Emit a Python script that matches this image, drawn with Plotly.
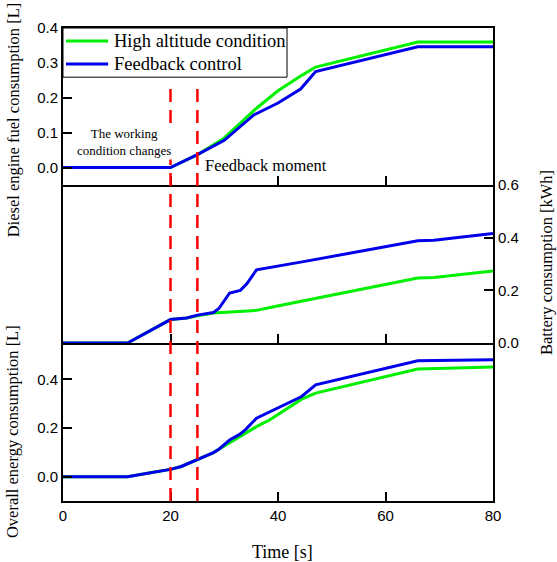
import plotly.graph_objects as go

# diesel engine fuel consumption [L]
t_fuel_alt = [0, 20, 25, 30, 36, 40, 44.5, 47, 66, 80]
fuel_alt = [0, 0, 0.037, 0.085, 0.17, 0.22, 0.265, 0.288, 0.36, 0.36]
t_fuel_fb = [0, 20, 25, 30, 35.5, 40, 44.2, 47, 66, 80]
fuel_fb = [0, 0, 0.037, 0.078, 0.151, 0.185, 0.225, 0.275, 0.346, 0.346]

# battery consumption [kWh]
t_bat_alt = [0, 12, 20, 23, 25, 28, 36, 38.5, 66, 69, 80]
bat_alt = [0, 0, 0.089, 0.095, 0.103, 0.114, 0.124, 0.135, 0.247, 0.249, 0.274]
t_bat_fb = [0, 12, 20, 23, 25, 28, 29, 31, 33, 34.2, 36, 38, 45, 66, 69, 80]
bat_fb = [0, 0, 0.089, 0.095, 0.106, 0.116, 0.131, 0.19, 0.2, 0.225, 0.278, 0.285, 0.31, 0.388, 0.39, 0.416]

# overall energy consumption [L]
t_all_alt = [0, 12, 16, 20, 22, 25, 28, 29, 31, 36, 38.5, 44.4, 47, 66, 80]
all_alt = [0, 0, 0.015, 0.03, 0.042, 0.072, 0.099, 0.113, 0.14, 0.206, 0.234, 0.319, 0.344, 0.443, 0.451]
t_all_fb = [0, 12, 16, 20, 22, 25, 28, 29, 31, 33, 34, 36, 38.5, 44.4, 47, 66, 80]
all_fb = [0, 0, 0.015, 0.03, 0.042, 0.072, 0.099, 0.113, 0.151, 0.176, 0.195, 0.241, 0.268, 0.33, 0.378, 0.477, 0.481]

event_times = [20, 25]
series_names = ['High altitude condition', 'Feedback control']
GREEN = 'rgb(0,240,0)'
BLUE = 'rgb(0,0,235)'
SERIF = 'Liberation Serif, Times New Roman, serif'
SANS = 'Liberation Sans, Arial, sans-serif'

fig = go.Figure()

panels = [
    ('x3', 'y3', t_fuel_alt, fuel_alt, t_fuel_fb, fuel_fb),
    ('x2', 'y2', t_bat_alt, bat_alt, t_bat_fb, bat_fb),
    ('x', 'y', t_all_alt, all_alt, t_all_fb, all_fb),
]
for xa, ya, tg, g, tb, b in panels:
    fig.add_trace(go.Scatter(x=tg, y=g, mode='lines', name=series_names[0],
                             line=dict(color=GREEN, width=3), xaxis=xa, yaxis=ya))
    fig.add_trace(go.Scatter(x=tb, y=b, mode='lines', name=series_names[1],
                             line=dict(color=BLUE, width=3), xaxis=xa, yaxis=ya))

for t in event_times:
    fig.add_shape(type='line', xref='x', yref='paper', x0=t, x1=t, y0=0, y1=0.884,
                  line=dict(color='red', width=2.5, dash='13px,8px'), layer='above')

# hand-made legend box (more compact than plotly's own)
fig.add_shape(type='rect', xref='paper', yref='paper', x0=0, x1=0.521, y0=0.896, y1=1,
              line=dict(color='black', width=1), fillcolor='white', layer='above')
for name, col, ly in zip(series_names, [GREEN, BLUE], [0.9725, 0.924]):
    fig.add_shape(type='line', xref='paper', yref='paper', x0=0.007, x1=0.105, y0=ly, y1=ly,
                  line=dict(color=col, width=3), layer='above')
    fig.add_annotation(text=name, xref='paper', yref='paper', x=0.114, y=ly,
                       xanchor='left', yanchor='middle', showarrow=False,
                       font=dict(family=SERIF, size=18.5, color='black'))

ax_common = dict(showline=True, linecolor='black', linewidth=2, mirror=True,
                 ticks='inside', ticklen=9, tickwidth=2, tickcolor='black',
                 showgrid=False, zeroline=False, automargin=False)
tickfont = dict(family=SANS, size=15, color='black')

fig.update_layout(
    width=557, height=562,
    margin=dict(l=63, r=64, t=28, b=61, autoexpand=False),
    plot_bgcolor='white', paper_bgcolor='white',
    xaxis=dict(ax_common, range=[0, 80], dtick=20, anchor='y', tickfont=tickfont, mirror=False),
    xaxis2=dict(ax_common, range=[0, 80], dtick=20, anchor='y2', showticklabels=False,
                matches='x', mirror=False),
    xaxis3=dict(ax_common, range=[0, 80], dtick=20, anchor='y3', showticklabels=False, matches='x'),
    yaxis=dict(ax_common, domain=[0, 0.334], range=[-0.1, 0.55], tickvals=[0, 0.2, 0.4],
               tickformat='.1f', anchor='x', tickfont=tickfont),
    yaxis2=dict(ax_common, domain=[0.334, 0.668], range=[0, 0.6], tickvals=[0, 0.2, 0.4, 0.6],
                tickformat='.1f', side='right', anchor='x2', tickfont=tickfont),
    yaxis3=dict(ax_common, domain=[0.668, 1], range=[-0.05, 0.4], tickvals=[0, 0.1, 0.2, 0.3, 0.4],
                tickformat='.1f', anchor='x3', tickfont=tickfont),
    showlegend=False,
)

title_font = dict(family=SERIF, size=16.5, color='black')
fig.add_annotation(text='Diesel engine fuel consumption [L]', xref='paper', yref='paper',
                   x=-0.116, y=0.805, textangle=-90, showarrow=False, font=title_font,
                   xanchor='center', yanchor='middle')
fig.add_annotation(text='Overall energy consumption [L]', xref='paper', yref='paper',
                   x=-0.116, y=0.146, textangle=-90, showarrow=False, font=title_font,
                   xanchor='center', yanchor='middle')
fig.add_annotation(text='Battery consumption [kWh]', xref='paper', yref='paper',
                   x=1.123, y=0.505, textangle=-90, showarrow=False, font=title_font,
                   xanchor='center', yanchor='middle')
fig.add_annotation(text='Time [s]', xref='paper', yref='paper', x=0.51, y=-0.108,
                   showarrow=False, font=dict(family=SERIF, size=18, color='black'),
                   xanchor='center', yanchor='middle')

fig.add_annotation(text='The working<br>condition changes', xref='x3', yref='y3',
                   x=11.4, y=0.074, showarrow=False,
                   font=dict(family=SERIF, size=13, color='black'),
                   xanchor='center', yanchor='middle', bgcolor='white')
fig.add_annotation(text='Feedback moment', xref='x3', yref='y3', x=26, y=0.006,
                   showarrow=False, font=dict(family=SERIF, size=16.5, color='black'),
                   xanchor='left', yanchor='middle')

fig.write_html("out.html", post_script="document.body.style.margin='0';",
               config={'displayModeBar': False})
